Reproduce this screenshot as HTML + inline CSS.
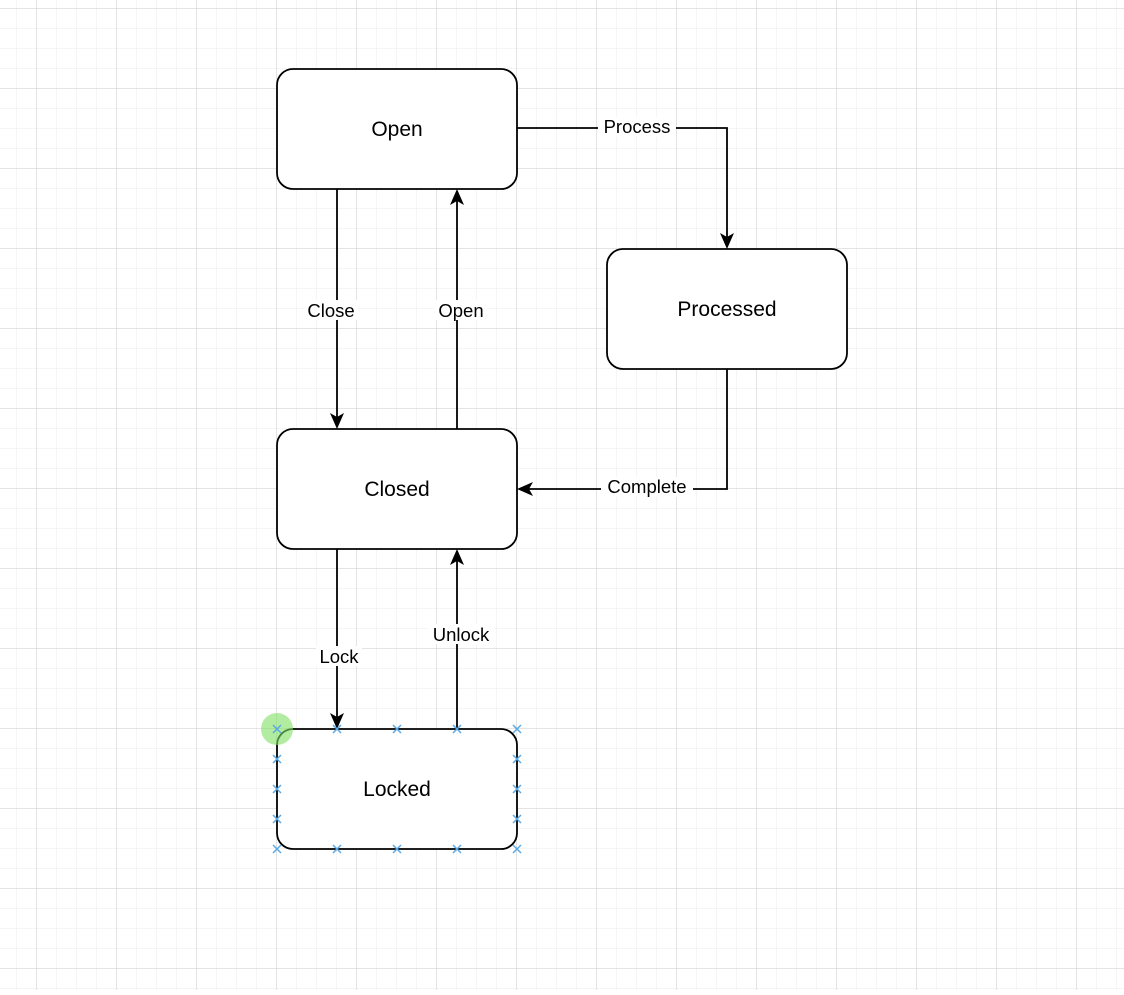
<!DOCTYPE html>
<html><head><style>html,body{margin:0;padding:0;background:#fff}</style></head>
<body>
<svg width="1124" height="990" xmlns="http://www.w3.org/2000/svg" font-family="Liberation Sans, Helvetica, Arial, sans-serif">
<defs>
<pattern id="minor" x="16.5" y="8.5" width="20" height="20" patternUnits="userSpaceOnUse">
<path d="M0 0H20M0 0V20" stroke="#ebebeb" stroke-width="1" fill="none"/>
</pattern>
<pattern id="major" x="36.5" y="8.5" width="80" height="80" patternUnits="userSpaceOnUse">
<path d="M0 0H80M0 0V80" stroke="#c8c8c8" stroke-width="1" fill="none"/>
</pattern>
</defs>
<rect width="1124" height="990" fill="url(#minor)"/>
<rect width="1124" height="990" fill="url(#major)"/>
<g stroke="#000" stroke-width="1.8" fill="none">
<path d="M517 128H727V240"/>
<path d="M727 369V489H526"/>
<path d="M337 189V420"/>
<path d="M457 429V198"/>
<path d="M337 549V720"/>
<path d="M457 729V558"/>
</g>
<g fill="#000">
<path d="M727 249L720 233L727 237L734 233Z"/>
<path d="M517 489L533 482L529 489L533 496Z"/>
<path d="M337 429L330 413L337 417L344 413Z"/>
<path d="M457 189L450 205L457 201L464 205Z"/>
<path d="M337 729L330 713L337 717L344 713Z"/>
<path d="M457 549L450 565L457 561L464 565Z"/>
</g>
<g stroke="#000" stroke-width="1.8" fill="#fff">
<rect x="277" y="69" width="240" height="120" rx="16"/>
<rect x="607" y="249" width="240" height="120" rx="16"/>
<rect x="277" y="429" width="240" height="120" rx="16"/>
<rect x="277" y="729" width="240" height="120" rx="16"/>
</g>
<g font-size="21" text-anchor="middle" fill="#000">
<text x="397" y="136">Open</text>
<text x="727" y="316">Processed</text>
<text x="397" y="496">Closed</text>
<text x="397" y="796">Locked</text>
</g>
<g font-size="18.5" text-anchor="middle" fill="#000">
<rect x="598" y="117" width="78" height="20" fill="#fff"/>
<text x="637" y="133">Process</text>
<rect x="601" y="477" width="92" height="20" fill="#fff"/>
<text x="647" y="493">Complete</text>
<rect x="304" y="300" width="54" height="20" fill="#fff"/>
<text x="331" y="317">Close</text>
<rect x="434" y="300" width="54" height="20" fill="#fff"/>
<text x="461" y="317">Open</text>
<rect x="316" y="646" width="46" height="20" fill="#fff"/>
<text x="339" y="663">Lock</text>
<rect x="428" y="624" width="66" height="20" fill="#fff"/>
<text x="461" y="641">Unlock</text>
</g>
<circle cx="277" cy="729" r="16" fill="#7fe060" fill-opacity="0.6"/>
<g stroke="#5aa9e6" stroke-width="1.5">
<path d="M-4 -4L4 4M-4 4L4 -4" transform="translate(277 729)"/>
<path d="M-4 -4L4 4M-4 4L4 -4" transform="translate(337 729)"/>
<path d="M-4 -4L4 4M-4 4L4 -4" transform="translate(397 729)"/>
<path d="M-4 -4L4 4M-4 4L4 -4" transform="translate(457 729)"/>
<path d="M-4 -4L4 4M-4 4L4 -4" transform="translate(517 729)"/>
<path d="M-4 -4L4 4M-4 4L4 -4" transform="translate(277 759)"/>
<path d="M-4 -4L4 4M-4 4L4 -4" transform="translate(277 789)"/>
<path d="M-4 -4L4 4M-4 4L4 -4" transform="translate(277 819)"/>
<path d="M-4 -4L4 4M-4 4L4 -4" transform="translate(517 759)"/>
<path d="M-4 -4L4 4M-4 4L4 -4" transform="translate(517 789)"/>
<path d="M-4 -4L4 4M-4 4L4 -4" transform="translate(517 819)"/>
<path d="M-4 -4L4 4M-4 4L4 -4" transform="translate(277 849)"/>
<path d="M-4 -4L4 4M-4 4L4 -4" transform="translate(337 849)"/>
<path d="M-4 -4L4 4M-4 4L4 -4" transform="translate(397 849)"/>
<path d="M-4 -4L4 4M-4 4L4 -4" transform="translate(457 849)"/>
<path d="M-4 -4L4 4M-4 4L4 -4" transform="translate(517 849)"/>
</g>
</svg>
</body></html>
